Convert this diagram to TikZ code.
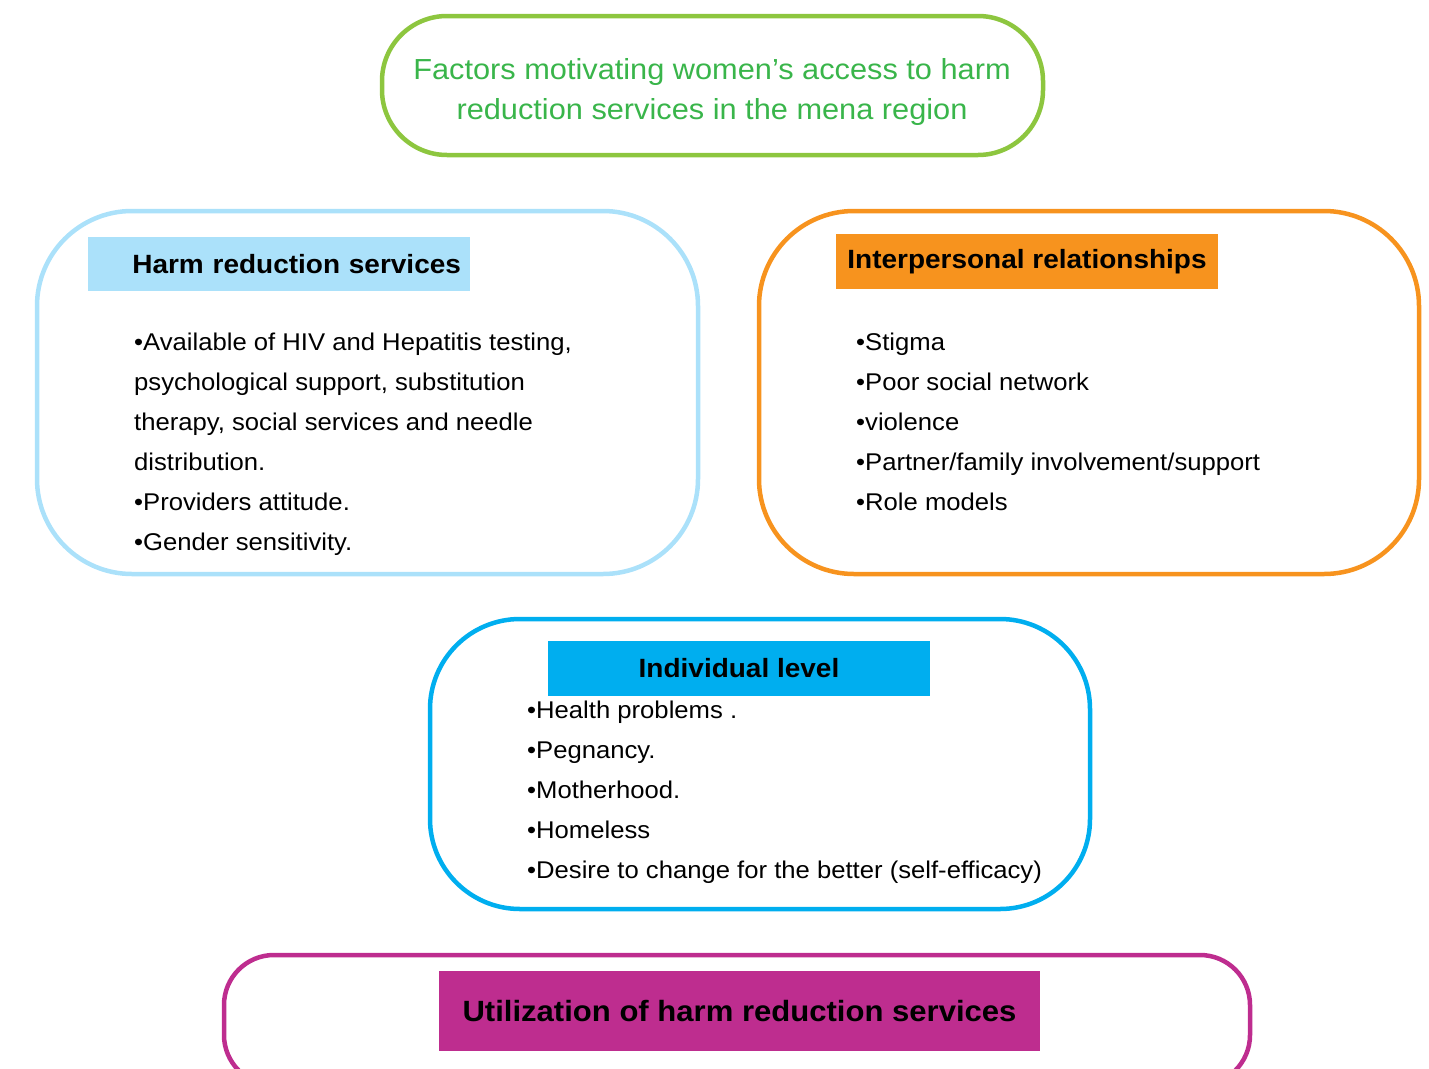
\documentclass[tikz,border=0pt]{standalone}
\usepackage{fontspec}
\setmainfont{Liberation Sans}[FakeStretch=1.06]
\usepackage{tikz}
\usetikzlibrary{positioning}

\definecolor{framegreen}{HTML}{8DC63F}
\definecolor{textgreen}{HTML}{39B54A}
\definecolor{paleblue}{HTML}{ABE1FA}
\definecolor{hrorange}{HTML}{F7931E}
\definecolor{skyblue}{HTML}{00AEEF}
\definecolor{hrmagenta}{HTML}{BE2D8F}

\newcommand{\itemfont}{\fontsize{24.2}{40}\selectfont}
\newcommand{\headfont}{\fontsize{26.4}{30}\selectfont\bfseries}

\begin{document}
\begin{tikzpicture}[x=1pt,y=-1pt,
	frame/.style={draw, line width=4.5pt, rounded corners=#1, inner sep=0pt},
	headbox/.style={minimum width=382pt, minimum height=55pt, inner sep=0pt, font=\headfont},
	itemlist/.style={anchor=north west, inner sep=0pt, align=left, font=\itemfont}]
	\clip (0,0) rectangle (1429,1068);

	% title
	\node[frame=65pt, draw=framegreen, minimum width=661pt, minimum height=139pt] (goal) at (712.5,85.5) {};
	\node[align=center, text=textgreen, font=\fontsize{29}{40}\selectfont] (goaltext) at (712,92)
		{Factors motivating women’s access to harm\\reduction services in the mena region};

	% three levels
	\node[frame=95pt, draw=paleblue, minimum width=661pt, minimum height=363pt] (hrs) at (367.5,392.5) {};
	\node[headbox, fill=paleblue, minimum height=54pt, text width=364pt, inner xsep=9pt, align=right] (hrshead) at (279,264) {Harm reduction services};
	\node[itemlist] (hrslist) at (134,333)
		{•Available of HIV and Hepatitis testing,\\
		psychological support, substitution\\
		therapy, social services and needle\\
		distribution.\\
		•Providers attitude.\\
		•Gender sensitivity.};

	\node[frame=95pt, draw=hrorange, minimum width=660pt, minimum height=363pt] (rel) at (1089,392.5) {};
	\node[headbox, fill=hrorange] (relhead) at (1027,261.5) {Interpersonal relationships};
	\node[itemlist] (rellist) at (856,333)
		{•Stigma\\
		•Poor social network\\
		•violence\\
		•Partner/family involvement/support\\
		•Role models};

	\node[frame=90pt, draw=skyblue, minimum width=660pt, minimum height=290pt] (ind) at (760,764) {};
	\node[headbox, fill=skyblue] (indhead) at (739,668.5) {Individual level};
	\node[itemlist] (indlist) at (527,701)
		{•Health problems .\\
		•Pegnancy.\\
		•Motherhood.\\
		•Homeless\\
		•Desire to change for the better (self-efficacy)};

	% outcome
	\node[frame=50pt, draw=hrmagenta, minimum width=1026pt, minimum height=130pt] (use) at (737,1020) {};
	\node[headbox, fill=hrmagenta, minimum width=601pt, minimum height=80pt, font=\fontsize{29.3}{32}\selectfont\bfseries] (usehead) at (739.5,1011) {Utilization of harm reduction services};
\end{tikzpicture}
\end{document}
